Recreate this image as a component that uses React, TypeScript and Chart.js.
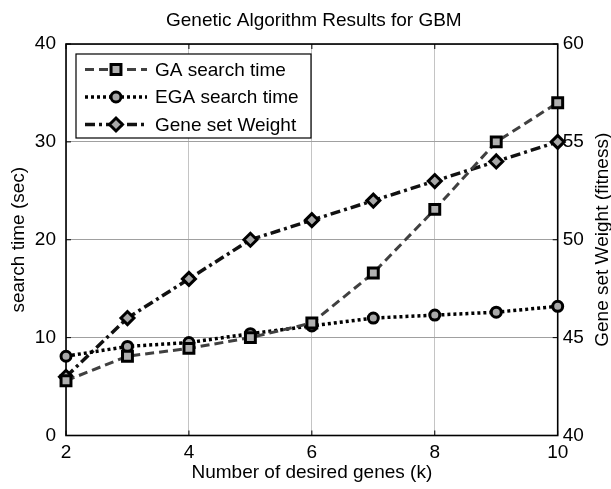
import React, { useEffect, useRef } from "react";
import { Chart, registerables } from "chart.js";

Chart.register(...registerables);

const kValues = [2, 3, 4, 5, 6, 7, 8, 9, 10];
const gaTime = [5.6, 8.1, 8.9, 10.0, 11.5, 16.6, 23.1, 30.0, 34.0];
const egaTime = [8.1, 9.1, 9.5, 10.4, 11.2, 12.0, 12.3, 12.6, 13.2];
const geneWeight = [43, 46, 48, 50, 51, 52, 53, 54, 55];
const seriesLabels = ["GA search time", "EGA search time", "Gene set Weight"];
const chartTitle = "Genetic Algorithm Results for GBM";
const xTitle = "Number of desired genes (k)";
const yTitle = "search time (sec)";
const y2Title = "Gene set Weight (fitness)";

const FONT = "'Liberation Sans', Arial, Helvetica, sans-serif";
const FS = 19;

function drawMarker(ctx: CanvasRenderingContext2D, style: string, x: number, y: number, r: number) {
  ctx.beginPath();
  if (style === "rect") {
    const s = r * Math.SQRT1_2;
    ctx.rect(x - s, y - s, 2 * s, 2 * s);
  } else if (style === "rectRot") {
    ctx.moveTo(x - r, y);
    ctx.lineTo(x, y - r);
    ctx.lineTo(x + r, y);
    ctx.lineTo(x, y + r);
    ctx.closePath();
  } else {
    ctx.arc(x, y, r, 0, Math.PI * 2);
  }
  ctx.fill();
  ctx.stroke();
}

const framePlugin = {
  id: "frame",
  beforeDatasetsDraw(chart: any) {
    const { ctx, chartArea: a, scales } = chart;
    ctx.save();
    ctx.strokeStyle = "#000";
    ctx.lineWidth = 1;
    ctx.setLineDash([]);
    const tl = 5;
    ctx.beginPath();
    scales.x.ticks.forEach((t: any) => {
      const px = scales.x.getPixelForValue(t.value);
      ctx.moveTo(px, a.bottom);
      ctx.lineTo(px, a.bottom - tl);
      ctx.moveTo(px, a.top);
      ctx.lineTo(px, a.top + tl);
    });
    scales.y.ticks.forEach((t: any) => {
      const py = scales.y.getPixelForValue(t.value);
      ctx.moveTo(a.left, py);
      ctx.lineTo(a.left + tl, py);
    });
    scales.y1.ticks.forEach((t: any) => {
      const py = scales.y1.getPixelForValue(t.value);
      ctx.moveTo(a.right, py);
      ctx.lineTo(a.right - tl, py);
    });
    ctx.stroke();
    ctx.lineWidth = 1.6;
    ctx.strokeRect(a.left, a.top, a.right - a.left, a.bottom - a.top);
    ctx.restore();
  },
  afterDatasetsDraw(chart: any) {
    const { ctx, chartArea: a } = chart;
    ctx.save();
    ctx.fillStyle = "#000";
    ctx.font = `${FS}px ${FONT}`;
    ctx.textAlign = "center";
    ctx.textBaseline = "middle";
    ctx.fillText(chartTitle, (a.left + a.right) / 2 + 2, 21);
    ctx.save();
    ctx.translate(chart.width - 8, (a.top + a.bottom) / 2);
    ctx.rotate(-Math.PI / 2);
    ctx.fillText(y2Title, 0, 0);
    ctx.restore();
    const lx = a.left + 10;
    const ly = a.top + 10;
    const lw = 235;
    const lh = 84;
    ctx.fillStyle = "#fff";
    ctx.fillRect(lx, ly, lw, lh);
    ctx.strokeStyle = "#000";
    ctx.lineWidth = 1.2;
    ctx.setLineDash([]);
    ctx.strokeRect(lx, ly, lw, lh);
    chart.data.datasets.forEach((ds: any, i: number) => {
      const ry = ly + 15.5 + i * 27.5;
      ctx.strokeStyle = ds.borderColor;
      ctx.lineWidth = ds.borderWidth;
      ctx.setLineDash(ds.borderDash || []);
      ctx.lineCap = "butt";
      ctx.beginPath();
      ctx.moveTo(lx + 9, ry);
      ctx.lineTo(lx + 71, ry);
      ctx.stroke();
      ctx.setLineDash([]);
      ctx.fillStyle = ds.pointBackgroundColor;
      ctx.strokeStyle = ds.pointBorderColor;
      ctx.lineWidth = ds.pointBorderWidth;
      drawMarker(ctx, ds.pointStyle, lx + 40, ry, ds.pointRadius);
      ctx.fillStyle = "#000";
      ctx.textAlign = "left";
      ctx.textBaseline = "middle";
      ctx.fillText(ds.label, lx + 79, ry + 1);
    });
    ctx.restore();
  },
};

export default function App() {
  const ref = useRef<HTMLCanvasElement | null>(null);
  useEffect(() => {
    if (!ref.current) return;
    const pts = (ys: number[]) => kValues.map((k, i) => ({ x: k, y: ys[i] }));
    const chart = new Chart(ref.current, {
      type: "line",
      data: {
        datasets: [
          {
            label: seriesLabels[0],
            data: pts(gaTime),
            yAxisID: "y",
            borderColor: "#404040",
            borderWidth: 3,
            borderDash: [9, 5],
            pointStyle: "rect",
            pointRadius: 7,
            pointBorderWidth: 3,
            pointBorderColor: "#000",
            pointBackgroundColor: "#b0b0b0",
            clip: false as any,
          },
          {
            label: seriesLabels[1],
            data: pts(egaTime),
            yAxisID: "y",
            borderColor: "#000",
            borderWidth: 3.5,
            borderDash: [3, 3],
            pointStyle: "circle",
            pointRadius: 5,
            pointBorderWidth: 3,
            pointBorderColor: "#000",
            pointBackgroundColor: "#a8a8a8",
            clip: false as any,
          },
          {
            label: seriesLabels[2],
            data: pts(geneWeight),
            yAxisID: "y1",
            borderColor: "#111",
            borderWidth: 3.5,
            borderDash: [10, 4, 3, 4],
            pointStyle: "rectRot",
            pointRadius: 6.5,
            pointBorderWidth: 3,
            pointBorderColor: "#000",
            pointBackgroundColor: "#a8a8a8",
            clip: false as any,
          },
        ],
      },
      options: {
        animation: false,
        responsive: false,
        layout: { padding: { top: 44, left: 0, right: 0, bottom: 0 } },
        plugins: { legend: { display: false }, title: { display: false }, tooltip: { enabled: false } },
        elements: { line: { tension: 0 } },
        scales: {
          x: {
            type: "linear",
            min: 2,
            max: 10,
            ticks: { stepSize: 2, color: "#000", font: { family: FONT, size: FS }, padding: 6 },
            grid: { color: "#c4c4c4", lineWidth: 1, drawTicks: false },
            border: { display: false },
            title: { display: true, text: xTitle, color: "#000", font: { family: FONT, size: FS }, padding: { top: 0, bottom: 5 } },
            afterFit: (s: any) => { s.height = 53.5; },
          },
          y: {
            type: "linear",
            position: "left",
            min: 0,
            max: 40,
            ticks: { stepSize: 10, color: "#000", font: { family: FONT, size: FS }, padding: 10 },
            grid: { color: "#a0a0a0", lineWidth: 1, drawTicks: false },
            border: { display: false },
            title: { display: true, text: yTitle, color: "#000", font: { family: FONT, size: FS }, padding: { top: 7, bottom: 0 } },
            afterFit: (s: any) => { s.width = 66; },
          },
          y1: {
            type: "linear",
            position: "right",
            min: 40,
            max: 60,
            ticks: { stepSize: 5, color: "#000", font: { family: FONT, size: FS }, padding: 5 },
            grid: { drawOnChartArea: false, drawTicks: false },
            border: { display: false },
            afterFit: (s: any) => { s.width = 53.3; },
          },
        },
      },
      plugins: [framePlugin],
    } as any);
    return () => chart.destroy();
  }, []);
  return (
    <div style={{ position: "absolute", left: 0, top: 0, width: 611, height: 489, background: "#fff" }}>
      <canvas ref={ref} width={611} height={489} />
    </div>
  );
}
